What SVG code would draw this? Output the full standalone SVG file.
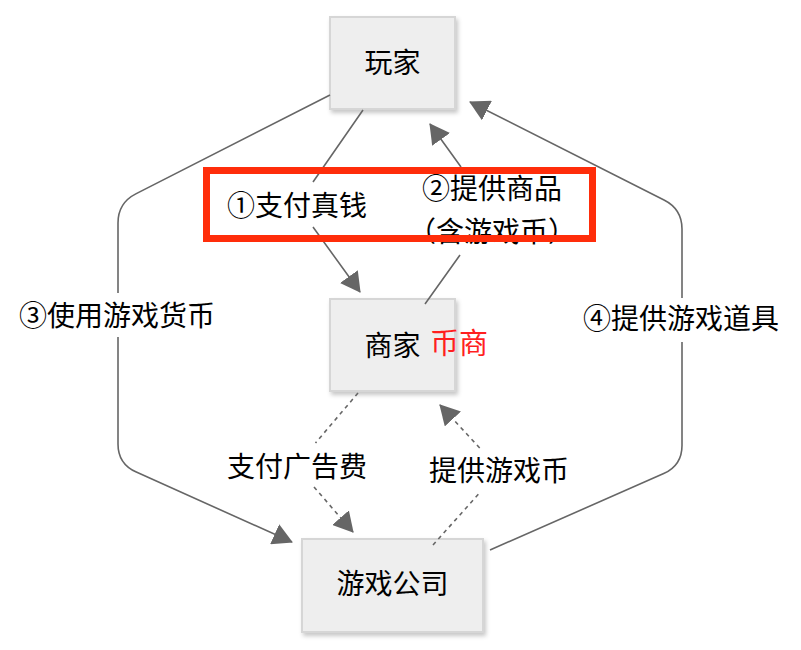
<svg xmlns="http://www.w3.org/2000/svg" width="801" height="650" viewBox="0 0 801 650">
<style>
.box{fill:#eeeeee;stroke:#d6d6d6;stroke-width:2;filter:url(#sh)}
.t{font-family:"Noto Sans CJK SC","Noto Sans",sans-serif;font-size:28px;fill:#000;text-anchor:middle}
.e{fill:none;stroke:#666;stroke-width:1.6}
.d{fill:none;stroke:#666;stroke-width:1.6;stroke-dasharray:4 4}
</style>
<defs>
<filter id="sh" x="-20%" y="-20%" width="150%" height="150%">
<feDropShadow dx="2" dy="3" stdDeviation="2" flood-color="#000" flood-opacity="0.22"/>
</filter>
<marker id="ar" viewBox="0 0 20 22" refX="19" refY="11" markerWidth="20" markerHeight="22" markerUnits="userSpaceOnUse" orient="auto">
<path d="M0,0 L20,11 L0,22 z" fill="#666"/>
</marker>
</defs>
<g id="n-player"><rect class="box" x="330" y="17" width="125" height="92"/><text class="t" x="392.5" y="73">玩家</text></g>
<g id="n-merchant"><rect class="box" x="330" y="299" width="125" height="92"/><text class="t" x="392.5" y="356">商家</text><text class="t" x="459" y="354" style="fill:#ff1f1f;font-size:29px">币商</text></g>
<g id="n-company"><rect class="box" x="302" y="539" width="181" height="93"/><text class="t" x="392.5" y="594">游戏公司</text></g>
<g id="connectors">
<path class="e" d="M363,110 L313,182 M313,227 L360,292" marker-end="url(#ar)"/>
<path class="e" d="M425,304 L460,255 M461,167 L430,124" marker-end="url(#ar)"/>
<path class="e" d="M330,95 L135.8,193.9 Q118,203 118,223 L118,293 M118,337 L118,444 Q118,464 136.3,472.1 L292,542" marker-end="url(#ar)"/>
<path class="e" d="M490,550 L663.7,473.6 Q682,465.5 682,445.5 L682,342 M682,298 L682,229 Q682,209 664,200 L470,102" marker-end="url(#ar)"/>
<path class="d" d="M358,393 L315.5,443 M314,487 L353,532" marker-end="url(#ar)"/>
<path class="d" d="M433,545 L479.5,493 M479.7,448 L440,405" marker-end="url(#ar)"/>
</g>
<g id="labels">
<text class="t" x="297" y="216">①支付真钱</text>
<text class="t" x="492" y="199">②提供商品</text>
<text class="t" x="492" y="242">（含游戏币）</text>
<text class="t" x="117" y="326">③使用游戏货币</text>
<text class="t" x="681" y="329">④提供游戏道具</text>
<text class="t" x="297" y="477">支付广告费</text>
<text class="t" x="499" y="481">提供游戏币</text>
</g>
<rect id="highlight" x="206.5" y="170.5" width="386" height="68" fill="none" stroke="#ff2d0a" stroke-width="7"/>
</svg>
